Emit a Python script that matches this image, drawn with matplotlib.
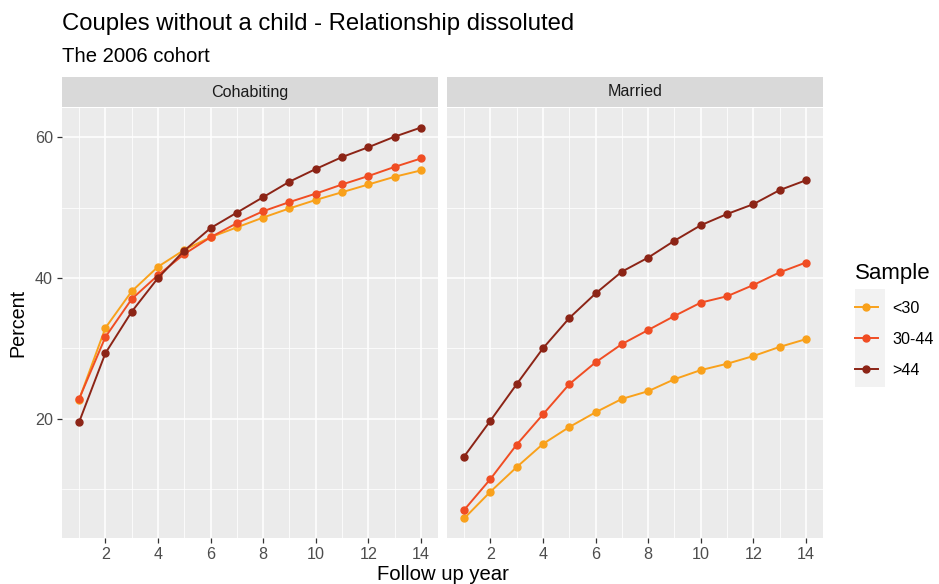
import matplotlib
matplotlib.use("Agg")
import matplotlib.pyplot as plt
from matplotlib.lines import Line2D
from matplotlib.patches import Rectangle
from matplotlib.ticker import MultipleLocator

plt.rcParams['font.family'] = ['Liberation Sans', 'DejaVu Sans']

years = list(range(1, 15))
panels = ["Cohabiting", "Married"]
samples = ["<30", "30-44", ">44"]
colors = {"<30": "#F9A11B", "30-44": "#F04D23", ">44": "#8C2416"}

cohab_u30 = [22.7, 32.9, 38.1, 41.6, 44.0, 45.8, 47.2, 48.6, 49.9, 51.1, 52.2, 53.3, 54.4, 55.3]
cohab_30_44 = [22.8, 31.6, 37.0, 40.4, 43.4, 45.8, 47.8, 49.5, 50.8, 52.0, 53.3, 54.5, 55.8, 57.0]
cohab_o44 = [19.5, 29.3, 35.2, 40.0, 43.9, 47.1, 49.3, 51.5, 53.7, 55.5, 57.2, 58.6, 60.1, 61.4]
married_u30 = [5.8, 9.6, 13.1, 16.4, 18.8, 20.9, 22.8, 23.9, 25.6, 26.9, 27.8, 28.9, 30.2, 31.3]
married_30_44 = [7.0, 11.4, 16.3, 20.6, 24.9, 28.0, 30.6, 32.6, 34.6, 36.5, 37.4, 39.0, 40.8, 42.2]
married_o44 = [14.6, 19.7, 24.9, 30.0, 34.3, 37.8, 40.9, 42.9, 45.3, 47.5, 49.1, 50.5, 52.5, 53.9]

data = {
    "Cohabiting": {"<30": cohab_u30, "30-44": cohab_30_44, ">44": cohab_o44},
    "Married": {"<30": married_u30, "30-44": married_30_44, ">44": married_o44},
}

W, H = 939, 584
fig = plt.figure(figsize=(W / 100, H / 100), dpi=100)
fig.patch.set_facecolor("white")

panel_lefts = [62, 447]
panel_width = 376
top_px, bot_px = 108, 538
strip_top = 77
small = 11.6

allv = [v for p in data.values() for s in p.values() for v in s]
ymin, ymax = min(allv), max(allv)
pad = (ymax - ymin) * 0.05
xpad = 13 * 0.05

axes = []
for i, name in enumerate(panels):
    l = panel_lefts[i]
    ax = fig.add_axes([l / W, 1 - bot_px / H, panel_width / W, (bot_px - top_px) / H])
    ax.set_facecolor("#EBEBEB")
    for s in ax.spines.values():
        s.set_visible(False)
    ax.set_xlim(1 - xpad, 14 + xpad)
    ax.set_ylim(ymin - pad, ymax + pad)
    ax.xaxis.set_major_locator(MultipleLocator(2))
    ax.xaxis.set_minor_locator(MultipleLocator(1))
    ax.yaxis.set_major_locator(MultipleLocator(20))
    ax.yaxis.set_minor_locator(MultipleLocator(10))
    ax.grid(which="major", color="white", linewidth=1.1)
    ax.grid(which="minor", color="white", linewidth=0.55)
    ax.set_axisbelow(True)
    ax.tick_params(which="major", length=3.5, width=0.9, color="#333333",
                   labelcolor="#4D4D4D", labelsize=small, pad=3)
    ax.tick_params(which="minor", length=0)
    if i == 1:
        ax.tick_params(axis="y", which="both", left=False, labelleft=False)
    for smp in samples:
        ax.plot(years, data[name][smp], color=colors[smp], linewidth=1.4,
                marker="o", markersize=5, label=smp, zorder=3)
    # strip
    sax = fig.add_axes([l / W, 1 - (top_px - 1) / H, panel_width / W, (top_px - 1 - strip_top) / H])
    sax.set_facecolor("#D9D9D9")
    sax.set_xticks([]); sax.set_yticks([])
    for s in sax.spines.values():
        s.set_visible(False)
    sax.text(0.5, 0.5, name, ha="center", va="center", fontsize=small, color="#1A1A1A",
             transform=sax.transAxes)
    axes.append(ax)

fig.text(62 / W, 1 - 24 / H, "Couples without a child - Relationship dissoluted",
         fontsize=17.2, ha="left", va="center", color="black")
fig.text(62 / W, 1 - 56 / H, "The 2006 cohort", fontsize=14.6, ha="left", va="center", color="black")
fig.text(18 / W, 1 - 323 / H, "Percent", rotation=90, fontsize=14.2, ha="center", va="center")
fig.text(443 / W, 1 - 575 / H, "Follow up year", fontsize=14.6, ha="center", va="center")

# legend
fig.patches.append(Rectangle((855 / W, 1 - 387 / H), 30 / W, 98 / H, transform=fig.transFigure,
                             facecolor="#F2F2F2", edgecolor="none", zorder=0))
handles = [Line2D([], [], color=colors[s], marker="o", markersize=5, linewidth=1.4) for s in samples]
leg = fig.legend(handles, samples, title="Sample", loc="upper left",
                 bbox_to_anchor=(840 / W, 1 - 249 / H), frameon=False, fontsize=small,
                 title_fontsize=16, handlelength=1.45, labelspacing=1.0, handletextpad=0.9,
                 alignment="left")

fig.savefig("out.png", dpi=100, facecolor="white")
